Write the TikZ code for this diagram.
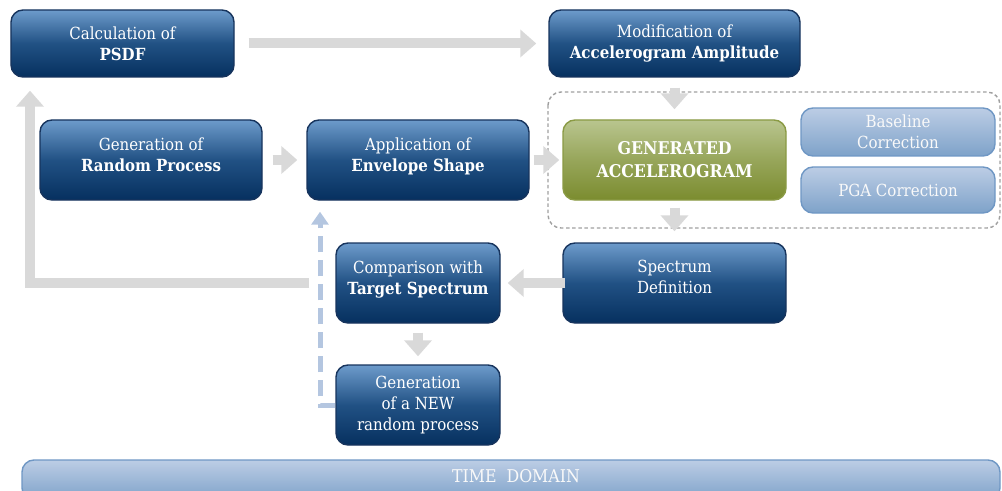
\documentclass[tikz,border=0pt]{standalone}
\usepackage{fontspec}
\setmainfont{DejaVu Serif Condensed}
\usepackage{tikz}
\usetikzlibrary{arrows.meta}

\definecolor{navytop}{HTML}{6D9BCB}
\definecolor{navymid}{HTML}{215184}
\definecolor{navybot}{HTML}{06305F}
\definecolor{navyline}{HTML}{17345D}
\definecolor{olivetop}{HTML}{B9C58F}
\definecolor{olivebot}{HTML}{7B8C2F}
\definecolor{oliveline}{HTML}{8A9A44}
\definecolor{palebluetop}{HTML}{BCCDE5}
\definecolor{palebluebot}{HTML}{7EA2C9}
\definecolor{paleblueline}{HTML}{6F97C4}
\definecolor{arrowgray}{HTML}{D9D9D9}
\definecolor{backblue}{HTML}{B4C6E0}
\definecolor{framegray}{HTML}{A0A0A0}

\begin{document}
\begin{tikzpicture}
  \tikzstyle{stage} = [rounded corners=0.24cm, draw=navyline, line width=0.8pt,
    top color=navytop, bottom color=navybot, middle color=navymid, text=white, align=center,
    minimum height=1.6cm, font=\fontsize{9.5}{12}\selectfont]
  \tikzstyle{lifted} = [text depth=0.23cm]
  \tikzstyle{result} = [stage, draw=oliveline, top color=olivetop, bottom color=olivebot,
    middle color=olivetop!45!olivebot, font=\fontsize{10}{13}\selectfont\bfseries]
  \tikzstyle{fix} = [stage, draw=paleblueline, top color=palebluetop, bottom color=palebluebot,
    middle color=palebluetop!50!palebluebot, text=white!95!gray, minimum width=3.88cm]
  \tikzstyle{flow} = [line width=0.2cm, draw=arrowgray, -{Triangle[width=0.54cm,length=0.32cm]}]
  \tikzstyle{backflow} = [line width=0.1cm, draw=backblue, dash pattern=on 0.32cm off 0.16cm,
    -{Triangle[width=0.34cm,length=0.26cm]}]
  \tikzstyle{group} = [draw=framegray, line width=0.8pt, dash pattern=on 2pt off 1.5pt,
    rounded corners=0.26cm]

  \useasboundingbox (0,0) rectangle (20.04,-9.82);

  % top row
  \node[stage, minimum width=4.46cm, minimum height=1.34cm] (psdf) at (2.45,-0.87)
    {Calculation of\\\textbf{PSDF}};
  \node[stage, minimum width=5.02cm, minimum height=1.34cm] (modif) at (13.49,-0.87)
    {Modification of\\\textbf{Accelerogram Amplitude}};

  % middle row
  \node[stage, lifted, minimum width=4.44cm] (random) at (3.02,-3.2)
    {Generation of\\\textbf{Random Process}};
  \node[stage, lifted, minimum width=4.44cm] (envelope) at (8.36,-3.2)
    {Application of\\\textbf{Envelope Shape}};
  \node[result, minimum width=4.46cm] (gen) at (13.49,-3.2)
    {GENERATED\\ACCELEROGRAM};
  \node[fix, minimum height=0.96cm] (base) at (17.96,-2.64) {Baseline\\Correction};
  \node[fix, minimum height=0.92cm] (pga) at (17.96,-3.8) {PGA Correction};
  \draw[group] (10.96,-1.84) rectangle (20.0,-4.56);

  % lower rows
  \node[stage, lifted, minimum width=4.46cm] (spectrum) at (13.49,-5.66)
    {Spectrum\\Definition};
  \node[stage, lifted, minimum width=3.28cm] (comp) at (8.36,-5.66)
    {Comparison with\\\textbf{Target Spectrum}};
  \node[stage, minimum width=3.28cm] (new) at (8.36,-8.1)
    {Generation\\of a NEW\\random process};

  % bottom bar
  \node[fix, minimum width=19.56cm, minimum height=0.8cm, text height=1.2ex,
    font=\fontsize{10}{12}\selectfont, inner ysep=0pt] (domain) at (10.22,-9.6)
    {\hspace*{0.2cm}\raisebox{0.06cm}{TIME\ \ DOMAIN}};

  \coordinate (loop) at (0.6,0);
  \coordinate (back) at (6.4,0);

  \draw[flow, shorten <=0.28cm, shorten >=0.24cm] (psdf) -- (modif);
  \draw[flow, shorten <=0.2cm, shorten >=0.18cm] (random) -- (envelope);
  \draw[flow, shorten <=0.08cm, shorten >=0.06cm] (envelope) -- (gen);
  \draw[flow, shorten <=0.2cm, shorten >=0.2cm] (modif) -- (gen);
  \draw[flow, shorten <=0.14cm, shorten >=0.22cm] (gen) -- (spectrum);
  \draw[flow, shorten <=-0.06cm, shorten >=0.14cm] (spectrum) -- (comp);
  \draw[flow, shorten <=0.18cm, shorten >=0.16cm] (comp) -- (new);
  \draw[flow, shorten <=0.52cm, shorten >=0.26cm] (comp.west) -| (psdf.south -| loop);

  \draw[backflow, shorten >=0.22cm] (new.west) -| (envelope.south -| back);
\end{tikzpicture}
\end{document}
